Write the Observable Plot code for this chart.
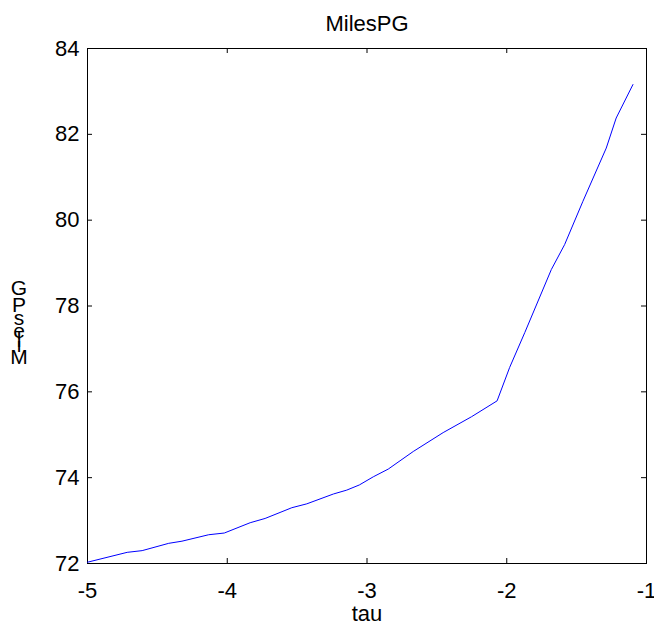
<!DOCTYPE html>
<html>
<head>
<meta charset="utf-8">
<script src="https://cdn.jsdelivr.net/npm/d3@7"></script>
<script src="https://cdn.jsdelivr.net/npm/@observablehq/plot@0.6"></script>
<style>
  html, body { margin: 0; padding: 0; background: #fff; }
  #chart { width: 654px; height: 629px; }
</style>
</head>
<body>
<div id="chart"></div>
<script>
// ---- data ----
const tau = [-5, -4.716, -4.609, -4.419, -4.324, -4.133, -4.021, -3.836, -3.729, -3.538,
             -3.431, -3.240, -3.145, -3.055, -2.955, -2.848, -2.669, -2.455, -2.252, -2.069,
             -1.979, -1.871, -1.681, -1.586, -1.455, -1.288, -1.217, -1.097];
const milesPG = [72.03, 72.26, 72.30, 72.47, 72.52, 72.67, 72.71, 72.95, 73.05, 73.30,
                 73.39, 73.62, 73.71, 73.83, 74.02, 74.20, 74.61, 75.05, 75.42, 75.79,
                 76.57, 77.38, 78.85, 79.43, 80.44, 81.68, 82.38, 83.16];
const xTicks = [-5, -4, -3, -2, -1];
const yTicks = [72, 74, 76, 78, 80, 82, 84];
const titleText = "MilesPG";
const xLabel = "tau";
const yLabel = "MilesPG";

// ---- layout ----
const W = 654, H = 629;
const mL = 87, mR = 8, mT = 48, mB = 66;
const plotW = W - mL - mR, plotH = H - mT - mB;
const font = "'Liberation Sans', Arial, sans-serif";
const fs = 22;

const data = tau.map((t, i) => ({tau: t, v: milesPG[i]}));

const svg = Plot.plot({
  width: W, height: H,
  marginLeft: mL, marginRight: mR, marginTop: mT, marginBottom: mB,
  style: {fontFamily: font, fontSize: fs + "px", color: "#000", background: "#fff", overflow: "visible"},
  x: {domain: [-5, -1]},
  y: {domain: [72, 84]},
  marks: [
    Plot.frame({stroke: "#000", strokeWidth: 1}),
    Plot.axisX({ticks: xTicks, tickSize: 0, tickPadding: 19, fontSize: fs, label: null, tickFormat: d => String(d)}),
    Plot.axisY({ticks: yTicks, tickSize: 0, tickPadding: 8, fontSize: fs, label: null, tickFormat: d => String(d)}),
    // inward ticks (bottom, top, left, right)
    Plot.tickX(xTicks, {x: d => d, insetTop: plotH - 5, stroke: "#000"}),
    Plot.tickX(xTicks, {x: d => d, insetBottom: plotH - 5, stroke: "#000"}),
    Plot.tickY(yTicks, {y: d => d, insetRight: plotW - 5, stroke: "#000"}),
    Plot.tickY(yTicks, {y: d => d, insetLeft: plotW - 5, stroke: "#000"}),
    Plot.line(data, {x: "tau", y: "v", stroke: "#0000ff", strokeWidth: 1}),
    Plot.text([titleText], {text: d => d, frameAnchor: "top", lineAnchor: "middle", dy: -25, fontSize: fs, fill: "#000"}),
    Plot.text([xLabel], {text: d => d, frameAnchor: "bottom", lineAnchor: "middle", dy: 50, fontSize: fs, fill: "#000"})
  ]
});

// MATLAB-style stacked y label: characters upright, stacked bottom-to-top
const ctx = document.createElement("canvas").getContext("2d");
const ySize = 21;
ctx.font = ySize + "px " + font;
const chars = Array.from(yLabel);
const raw = chars.map(c => ctx.measureText(c).width);
let cum = 0;
const rel = chars.map((c, i) => { const ctr = cum + raw[i] / 2; cum += raw[i]; return ctr - raw[0] / 2; });
const bottomCenter = 356.5, topCenter = 288;
const k = (bottomCenter - topCenter) / rel[rel.length - 1];
const pos = chars.map((c, i) => ({c, y: bottomCenter - rel[i] * k}));
d3.select(svg).append("g")
  .attr("font-family", font).attr("font-size", ySize).attr("fill", "#000")
  .selectAll("text").data(pos).join("text")
  .attr("x", 19).attr("y", d => d.y)
  .attr("text-anchor", "middle").attr("dy", "0.35em")
  .text(d => d.c);

document.getElementById("chart").appendChild(svg);
</script>
</body>
</html>
